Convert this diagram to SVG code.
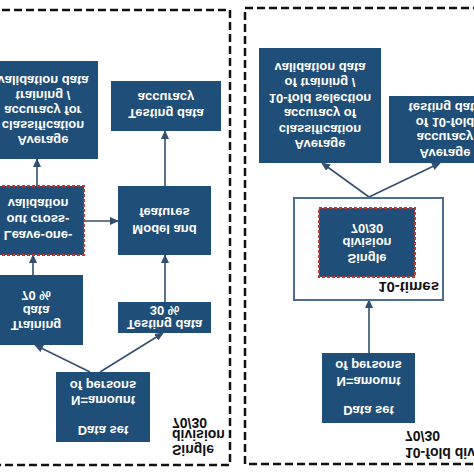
<svg xmlns="http://www.w3.org/2000/svg" width="474" height="474" viewBox="0 0 474 474">
<defs>
<style>
.node{fill:#1f4e79;}
.red{fill:#1f4e79;stroke:#c0392b;stroke-width:2;stroke-dasharray:3 2;}
.frame{fill:none;stroke:#111;stroke-width:2.5;stroke-dasharray:8 4;}
.outer{fill:#fff;stroke:#4a6d91;stroke-width:2;}
.t{fill:#fff;font-family:"Liberation Sans",Arial,sans-serif;font-weight:bold;font-size:13px;text-anchor:middle;}
.lbl{fill:#111;font-family:"Liberation Sans",Arial,sans-serif;font-weight:bold;font-size:14px;}
.c{stroke:#34506f;stroke-width:1.6;fill:none;marker-end:url(#ah);}
</style>
<marker id="ah" markerUnits="userSpaceOnUse" markerWidth="9" markerHeight="8" refX="8" refY="4" orient="auto">
<path d="M0,0 L9,4 L0,8 z" fill="#34506f"/>
</marker>
</defs>
<rect width="474" height="474" fill="#fff"/>
<rect class="frame" x="-10" y="10" width="240" height="455"/>
<rect class="frame" x="245" y="8" width="240" height="456"/>

<g id="connectors">
<line class="c" x1="165" y1="186" x2="165" y2="131"/>
<line class="c" x1="84" y1="221" x2="118" y2="221"/>
<line class="c" x1="37" y1="186" x2="37" y2="159"/>
<line class="c" x1="33" y1="275" x2="33" y2="255"/>
<line class="c" x1="165" y1="302" x2="165" y2="255"/>
<line class="c" x1="90" y1="372" x2="35" y2="345"/>
<line class="c" x1="100" y1="372" x2="163" y2="333"/>
<line class="c" x1="369" y1="197" x2="322" y2="163"/>
<line class="c" x1="369" y1="197" x2="440" y2="163"/>
<line class="c" x1="369" y1="353" x2="369" y2="300"/>
</g>

<g id="avg-left">
<rect class="node" x="-12" y="61" width="110" height="98"/>
<text class="t" transform="matrix(1 0 0 -1 43 75.5)">validation data</text>
<text class="t" transform="matrix(1 0 0 -1 43 90.5)">training /</text>
<text class="t" transform="matrix(1 0 0 -1 43 105.5)">accuracy for</text>
<text class="t" transform="matrix(1 0 0 -1 43 120.5)">classification</text>
<text class="t" transform="matrix(1 0 0 -1 43 135.5)">Average</text>
</g>
<g id="test-acc">
<rect class="node" x="111" y="81" width="110" height="50"/>
<text class="t" transform="matrix(1 0 0 -1 166 92.5)">accuracy</text>
<text class="t" transform="matrix(1 0 0 -1 166 108.5)">Testing data</text>
</g>
<g id="model">
<rect class="node" x="118" y="186" width="93" height="69"/>
<text class="t" transform="matrix(1 0 0 -1 164.5 207.5)">features</text>
<text class="t" transform="matrix(1 0 0 -1 164.5 224.5)">Model and</text>
</g>
<g id="loocv">
<rect class="red" x="-8" y="186" width="92" height="69"/>
<text class="t" transform="matrix(1 0 0 -1 38 198.5)">validation</text>
<text class="t" transform="matrix(1 0 0 -1 38 214.5)">out cross-</text>
<text class="t" transform="matrix(1 0 0 -1 38 230.5)">Leave-one-</text>
</g>
<g id="train">
<rect class="node" x="-11" y="275" width="94" height="70"/>
<text class="t" transform="matrix(1 0 0 -1 36 290.5)">70 %</text>
<text class="t" transform="matrix(1 0 0 -1 36 305.5)">data</text>
<text class="t" transform="matrix(1 0 0 -1 36 320.5)">Training</text>
</g>
<g id="test30">
<rect class="node" x="118" y="302" width="93" height="31"/>
<text class="t" transform="matrix(1 0 0 -1 164.5 305.5)">30 %</text>
<text class="t" transform="matrix(1 0 0 -1 164.5 319.5)">Testing data</text>
</g>
<g id="data-left">
<rect class="node" x="56" y="372" width="94" height="70"/>
<text class="t" transform="matrix(1 0 0 -1 103 380.5)">of persons</text>
<text class="t" transform="matrix(1 0 0 -1 103 395.5)">N=amount</text>
<text class="t" transform="matrix(1 0 0 -1 103 425.5)">Data set</text>
</g>
<g id="label-left">
<text class="lbl" transform="matrix(1 0 0 -1 172 417.5)">70/30</text>
<text class="lbl" transform="matrix(1 0 0 -1 172 430)">division</text>
<text class="lbl" transform="matrix(1 0 0 -1 172 445)">Single</text>
</g>

<g id="avg-right">
<rect class="node" x="259" y="48" width="122" height="115"/>
<text class="t" transform="matrix(1 0 0 -1 320 63)">validation data</text>
<text class="t" transform="matrix(1 0 0 -1 320 78.3)">of training /</text>
<text class="t" transform="matrix(1 0 0 -1 320 93.7)">10-fold selection</text>
<text class="t" transform="matrix(1 0 0 -1 320 109.1)">accuracy of</text>
<text class="t" transform="matrix(1 0 0 -1 320 124.5)">classification</text>
<text class="t" transform="matrix(1 0 0 -1 320 139.9)">Average</text>
</g>
<g id="avg-test-right">
<rect class="node" x="389" y="96" width="112" height="67"/>
<text class="t" transform="matrix(1 0 0 -1 445 102.5)">testing data</text>
<text class="t" transform="matrix(1 0 0 -1 445 117.5)">of 10-fold</text>
<text class="t" transform="matrix(1 0 0 -1 445 132.5)">accuracy</text>
<text class="t" transform="matrix(1 0 0 -1 445 148.5)">Average</text>
</g>
<g id="ten-times">
<rect class="outer" x="294" y="198" width="149" height="102"/>
<text class="lbl" style="font-size:15px;text-anchor:end" transform="matrix(1 0 0 -1 439 281.5)">10-times</text>
</g>
<g id="single-right">
<rect class="red" x="319" y="208" width="96" height="69"/>
<text class="t" transform="matrix(1 0 0 -1 367 223.5)">70/30</text>
<text class="t" transform="matrix(1 0 0 -1 367 237.5)">division</text>
<text class="t" transform="matrix(1 0 0 -1 367 253.5)">Single</text>
</g>
<g id="data-right">
<rect class="node" x="322" y="353" width="93" height="70"/>
<text class="t" transform="matrix(1 0 0 -1 368.5 360.5)">of persons</text>
<text class="t" transform="matrix(1 0 0 -1 368.5 376.5)">N=amount</text>
<text class="t" transform="matrix(1 0 0 -1 368.5 405.5)">Data set</text>
</g>
<g id="label-right">
<text class="lbl" transform="matrix(1 0 0 -1 405 430.5)">70/30</text>
<text class="lbl" transform="matrix(1 0 0 -1 405 447.5)">10-fold division</text>
</g>
</svg>
